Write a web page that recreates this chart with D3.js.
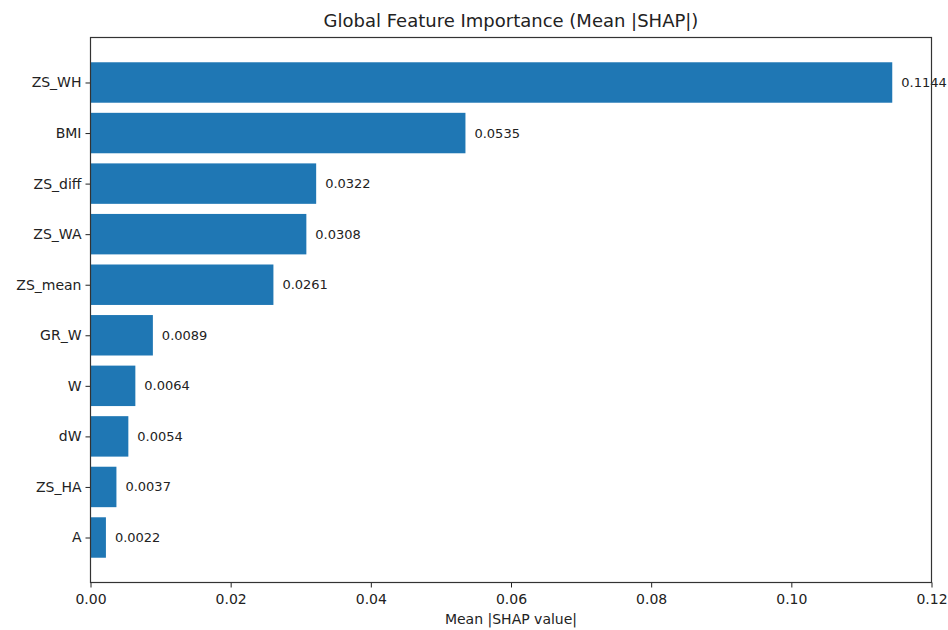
<!DOCTYPE html>
<html>
<head>
<meta charset="utf-8">
<script src="https://cdn.jsdelivr.net/npm/d3@7"></script>
<style>
  html, body { margin: 0; padding: 0; background: #fff; }
  svg text { font-family: "DejaVu Sans", sans-serif; fill: #222; }
</style>
</head>
<body>
<svg id="chart" width="948" height="630"></svg>
<script>
// Feature names, top to bottom, and their mean |SHAP| values
const features = ["ZS_WH", "BMI", "ZS_diff", "ZS_WA", "ZS_mean", "GR_W", "W", "dW", "ZS_HA", "A"];
const importance = [0.1144, 0.0535, 0.0322, 0.0308, 0.0261, 0.0089, 0.0064, 0.0054, 0.0037, 0.0022];
const xTicks = [0.00, 0.02, 0.04, 0.06, 0.08, 0.10, 0.12];

const W = 948, H = 630;
const margin = { left: 90.5, right: W - 931.5, top: 37.5, bottom: H - 582.5 };
const svg = d3.select("#chart");

const x = d3.scaleLinear().domain([0, 0.12]).range([margin.left, W - margin.right]);
// Category positions as numeric slots, with barh-style padding around the bars
const n = features.length;
const yPos = d3.scaleLinear().domain([-0.89, n - 1 + 0.89]).range([margin.top, H - margin.bottom]);
const barH = 0.8;

const rows = features.map((f, i) => ({ name: f, value: importance[i], slot: i }));

svg.append("g").selectAll("rect").data(rows).join("rect")
  .attr("x", x(0))
  .attr("y", d => yPos(d.slot - barH / 2))
  .attr("width", d => x(d.value) - x(0))
  .attr("height", d => yPos(d.slot + barH / 2) - yPos(d.slot - barH / 2))
  .attr("fill", "#1f77b4");

// Value labels at bar ends
svg.append("g").selectAll("text").data(rows).join("text")
  .attr("x", d => x(d.value) + 9)
  .attr("y", d => yPos(d.slot))
  .attr("dy", "0.35em")
  .attr("font-size", 13)
  .text(d => d.value.toFixed(4));

// Axes
const xAxis = d3.axisBottom(x).tickValues(xTicks).tickFormat(d3.format(".2f")).tickSize(5).tickPadding(7);
const gx = svg.append("g").attr("transform", `translate(0,${H - margin.bottom})`).call(xAxis);
gx.select(".domain").remove();
gx.selectAll("text").attr("font-size", 14).attr("fill", "#222").attr("font-family", "DejaVu Sans");
gx.selectAll("line").attr("stroke", "#222");

const yAxis = d3.axisLeft(d3.scaleLinear().domain(yPos.domain()).range(yPos.range()))
  .tickValues(d3.range(n)).tickFormat(i => features[i]).tickSize(5).tickPadding(4);
const gy = svg.append("g").attr("transform", `translate(${margin.left},0)`).call(yAxis);
gy.select(".domain").remove();
gy.selectAll("text").attr("font-size", 14).attr("fill", "#222").attr("font-family", "DejaVu Sans");
gy.selectAll("line").attr("stroke", "#222");

// Plot frame
svg.append("rect")
  .attr("x", margin.left).attr("y", margin.top)
  .attr("width", W - margin.left - margin.right)
  .attr("height", H - margin.top - margin.bottom)
  .attr("fill", "none").attr("stroke", "#333").attr("stroke-width", 1.2);

// Title and axis label
svg.append("text").attr("x", (margin.left + W - margin.right) / 2).attr("y", 27)
  .attr("text-anchor", "middle").attr("font-size", 18)
  .text("Global Feature Importance (Mean |SHAP|)");
svg.append("text").attr("x", (margin.left + W - margin.right) / 2).attr("y", 624)
  .attr("text-anchor", "middle").attr("font-size", 14)
  .text("Mean |SHAP value|");
</script>
</body>
</html>
